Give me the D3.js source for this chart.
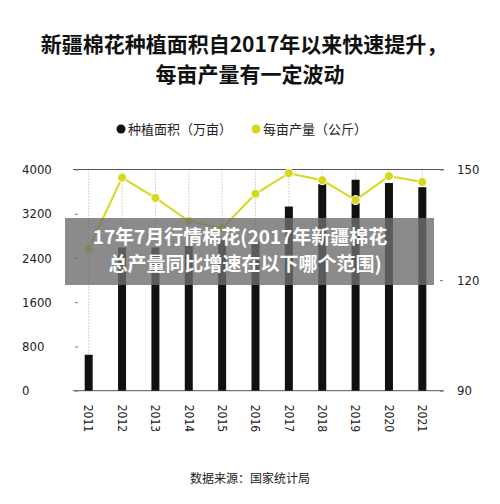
<!DOCTYPE html>
<html><head><meta charset="utf-8">
<script src="https://cdn.jsdelivr.net/npm/d3@7"></script>
<style>body{margin:0;background:#fff}</style>
</head><body>
<script>
// data
const years = ["2011","2012","2013","2014","2015","2016","2017","2018","2019","2020","2021"];
const area = [650, 2590, 2590, 2620, 2720, 2700, 3330, 3735, 3815, 3755, 3680];   // 万亩
const yieldPerMu = [128.5, 147.8, 142.3, 136, 134.1, 143.4, 149, 147.1, 141.7, 148.2, 146.6]; // 公斤
const leftTicks = [0, 800, 1600, 2400, 3200, 4000];
const rightTicks = [90, 120, 150];

const width = 500, height = 504;
const svg = d3.select("body").append("svg").attr("width", width).attr("height", height);
const cjk = "'Noto Sans CJK SC', sans-serif";
const narrow = "'Liberation Sans Narrow', 'DejaVu Sans Condensed', sans-serif";

// title
svg.selectAll(".title").data(["新疆棉花种植面积自2017年以来快速提升，", "每亩产量有一定波动"])
  .enter().append("text")
  .attr("x", (d, i) => i ? 250 : 244).attr("y", (d, i) => 52 + i * 30)
  .attr("text-anchor", "middle").attr("font-family", cjk).attr("font-weight", "bold")
  .attr("font-size", 21).attr("fill", "#111").text(d => d);

// legend
const lg = svg.append("g").attr("font-family", cjk).attr("font-size", 13).attr("fill", "#222");
lg.append("circle").attr("cx", 121).attr("cy", 129).attr("r", 4.5).attr("fill", "#111");
lg.append("text").attr("x", 128).attr("y", 134).text("种植面积（万亩）");
lg.append("circle").attr("cx", 256).attr("cy", 129).attr("r", 4.5).attr("fill", "#d6d81c");
lg.append("text").attr("x", 263).attr("y", 134).text("每亩产量（公斤）");

const x = d3.scaleBand().domain(years).range([73, 440]).padding(0);
const yL = d3.scaleLinear().domain([0, 4000]).range([390.7, 169.5]);
const yR = d3.scaleLinear().domain([90, 150]).range([390.7, 169.5]);
const cx = d => x(d) + x.bandwidth() / 2 - 1;

// dotted verticals
svg.selectAll(".vg").data(years).enter().append("line")
  .attr("x1", cx).attr("x2", cx).attr("y1", 169.5).attr("y2", 390.7)
  .attr("stroke", "#999").attr("stroke-width", 0.8).attr("stroke-dasharray", "1,2");

// top and base lines
[169.5, 390.7].forEach(y => svg.append("line").attr("x1", 73).attr("x2", 444)
  .attr("y1", y).attr("y2", y).attr("stroke", "#555").attr("stroke-width", 1));

// bars
svg.selectAll(".bar").data(area).enter().append("rect")
  .attr("x", (d, i) => cx(years[i]) - 4).attr("width", 8)
  .attr("y", d => yL(d)).attr("height", d => yL(0) - yL(d)).attr("fill", "#111");

// line
svg.append("path").datum(yieldPerMu)
  .attr("d", d3.line().x((d, i) => cx(years[i])).y(d => yR(d)))
  .attr("fill", "none").attr("stroke", "#d6d81c").attr("stroke-width", 2);
svg.selectAll(".pt").data(yieldPerMu).enter().append("circle")
  .attr("cx", (d, i) => cx(years[i])).attr("cy", d => yR(d)).attr("r", 4.5)
  .attr("fill", "#d6d81c").attr("stroke", "#fff").attr("stroke-width", 1);

// axes
const axL = svg.append("g").attr("transform", "translate(78,0)")
  .call(d3.axisLeft(yL).tickValues(leftTicks).tickFormat(d3.format("d")).tickSize(3));
const axR = svg.append("g").attr("transform", "translate(440,0)")
  .call(d3.axisRight(yR).tickValues(rightTicks).tickSize(3).tickPadding(14));
[axL, axR].forEach(a => {
  a.select(".domain").remove();
  a.selectAll("line").attr("stroke", "#777");
  a.selectAll("text").attr("font-family", narrow).attr("font-size", 13).attr("fill", "#222");
});
axL.selectAll("text").attr("text-anchor", "start").attr("x", -56);

const axB = svg.append("g").attr("transform", "translate(0,390.7)")
  .call(d3.axisBottom(x).tickSize(0));
axB.select(".domain").remove();
axB.selectAll("text").attr("font-family", narrow).attr("font-size", 12).attr("fill", "#222")
  .attr("text-anchor", "start").attr("x", 14).attr("y", 0).attr("dy", "0.35em")
  .attr("transform", d => `translate(${cx(d) - x(d) - x.bandwidth() / 2},0) rotate(90)`);

// source
svg.append("text").attr("x", 250).attr("y", 483).attr("text-anchor", "middle")
  .attr("font-family", cjk).attr("font-size", 12).attr("fill", "#222").text("数据来源：国家统计局");

// overlay caption
svg.append("rect").attr("x", 65).attr("y", 218).attr("width", 369).attr("height", 67)
  .attr("fill", "#6e6e6e").attr("opacity", 0.8);
svg.selectAll(".cap").data(["17年7月行情棉花(2017年新疆棉花", "总产量同比增速在以下哪个范围)"])
  .enter().append("text").attr("x", (d, i) => i ? 245 : 240).attr("y", (d, i) => 244 + i * 27)
  .attr("text-anchor", "middle").attr("font-family", cjk).attr("font-weight", "bold")
  .attr("font-size", 19).attr("fill", "#fff").text(d => d);
</script>
</body></html>
